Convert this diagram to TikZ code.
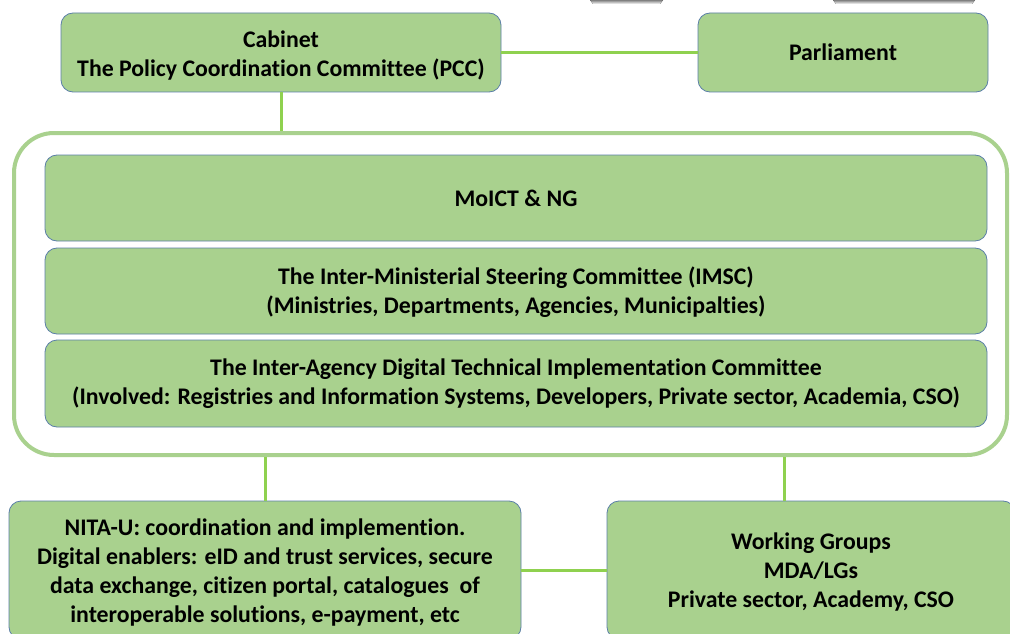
\documentclass[tikz,border=0pt]{standalone}
\usepackage{fontspec}
\setmainfont{Carlito}[Ligatures=NoCommon]
\definecolor{boxfill}{HTML}{A9D18E}
\definecolor{boxline}{HTML}{5B7FA8}
\definecolor{linkgreen}{HTML}{8FD14F}
\definecolor{framegreen}{HTML}{A9D18E}
\definecolor{shade}{HTML}{E0E0E0}
% invisible strut that lowers a text block slightly inside its box
\newcommand\lowerby[1]{\rule{0pt}{#1}}
\begin{document}
\begin{tikzpicture}[x=1pt,y=-1pt,
  orgbox/.style={draw=boxline, line width=0.8pt, fill=boxfill, rounded corners=12pt,
    inner sep=0pt, align=center, font=\fontsize{23.8}{29}\selectfont\bfseries},
  frame/.style={draw=framegreen, line width=4pt, rounded corners=40pt, inner sep=0pt},
  link/.style={draw=linkgreen, line width=3pt}]
\clip (0,0) rectangle (1010,634);
\fill[white] (0,0) rectangle (1010,634);
% faint shapes along the top edge
\fill[shade] (590,0) -- (663,0) -- (660,4) -- (593,4) -- cycle;
\fill[shade] (833,0) -- (975,0) -- (972,4) -- (836,4) -- cycle;

% top row
\node[orgbox, minimum width=440pt, minimum height=79pt] (cab) at (281,52.5)
  {\lowerby{23pt}Cabinet\\The Policy Coordination Committee (PCC)};
\node[orgbox, minimum width=290pt, minimum height=79pt] (parl) at (843,52.5) {Parliament};

% ministry frame and its three committees
\node[frame, minimum width=993pt, minimum height=322pt] (frm) at (510.5,294) {};
\node[orgbox, minimum width=942pt, minimum height=86pt] (moict) at (516,198) {MoICT \& NG};
\node[orgbox, minimum width=942pt, minimum height=86pt] (imsc) at (516,291)
  {\lowerby{21pt}The Inter-Ministerial Steering Committee (IMSC)\\(Ministries, Departments, Agencies, Municipalties)};
\node[orgbox, minimum width=942pt, minimum height=87pt] (iad) at (516,383.5)
  {The Inter-Agency Digital Technical Implementation Committee\\(Involved: Registries and Information Systems, Developers, Private sector, Academia, CSO)};

% bottom row
\node[orgbox, minimum width=512pt, minimum height=138pt] (nita) at (265,570)
  {\lowerby{22pt}NITA-U: coordination and implemention.\\Digital enablers: eID and trust services, secure\\data exchange, citizen portal, catalogues\ \ of\\interoperable solutions, e-payment, etc};
\node[orgbox, minimum width=408pt, minimum height=138pt] (wg) at (811,570)
  {\lowerby{20pt}Working Groups\\MDA/LGs\\Private sector, Academy, CSO};

% connectors
\draw[link] (cab.east) -- (parl.west);
\draw[link] (cab.south) -- (cab.south |- frm.north);
\draw[link] (nita.north) -- (nita.north |- frm.south);
\coordinate (wgtop) at ([xshift=-27pt]wg.north);
\draw[link] (wgtop) -- (wgtop |- frm.south);
\draw[link] (nita.east) -- (wg.west);
\end{tikzpicture}
\end{document}
